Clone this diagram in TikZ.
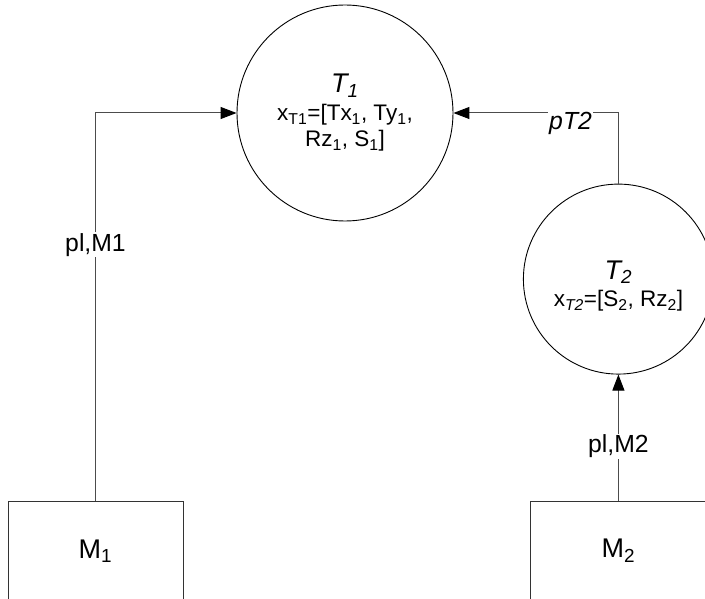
\documentclass[tikz,border=0pt]{standalone}
\usepackage{fontspec}
\setmainfont{Liberation Sans}
\usetikzlibrary{arrows.meta, positioning}

\newcommand{\bigfont}{\fontsize{27}{30}\selectfont}
\newcommand{\subfont}{\fontsize{22.5}{26}\selectfont}
\newcommand{\lblfont}{\fontsize{24.75}{28}\selectfont}

\begin{document}
\begin{tikzpicture}[x=1pt, y=-1pt,
    tracker/.style={circle, draw=black, line width=0.9pt, inner sep=0pt, align=center, font=\subfont},
    model/.style={rectangle, draw=black!80, line width=0.9pt, minimum width=175pt, minimum height=100pt, font=\bigfont},
    feed/.style={draw=black!70, line width=1pt, -{Triangle[length=16pt, width=12pt, black]}},
    tag/.style={fill=white, inner sep=1pt, font=\lblfont}]

\useasboundingbox (0,0) rectangle (705,599);
\clip (0,0) rectangle (705,599);

% trackers
\node[tracker, minimum size=216pt] (t1) at (345,113) {{\bigfont\textit{T\textsubscript{1}}}\\[2pt]x\textsubscript{T1}=[Tx\textsubscript{1}, Ty\textsubscript{1},\\Rz\textsubscript{1}, S\textsubscript{1}]};

% measurement sources
\node[model] (m1) at (95.5,551) {M\textsubscript{1}};
\node[model] (m2) [right=347pt of m1] {M\textsubscript{2}};

\node[tracker, minimum size=190pt] (t2) [above=126pt of m2] {{\bigfont\rule{0pt}{32pt}\textit{T\textsubscript{2}}}\\[1pt]x\textsubscript{\textit{T2}}=[S\textsubscript{2}, Rz\textsubscript{2}]};

% links
\draw[feed] (m1.north) |- node[tag, pos=0.33] {pl,M1} (t1.west);
\draw[feed] (m2.north) -- node[tag, pos=0.43] {pl,M2} (t2.south);
\draw[feed] (t2.north) |- node[tag, below, pos=0.645, yshift=2pt] {\textit{pT2}} (t1.east);
\end{tikzpicture}
\end{document}
